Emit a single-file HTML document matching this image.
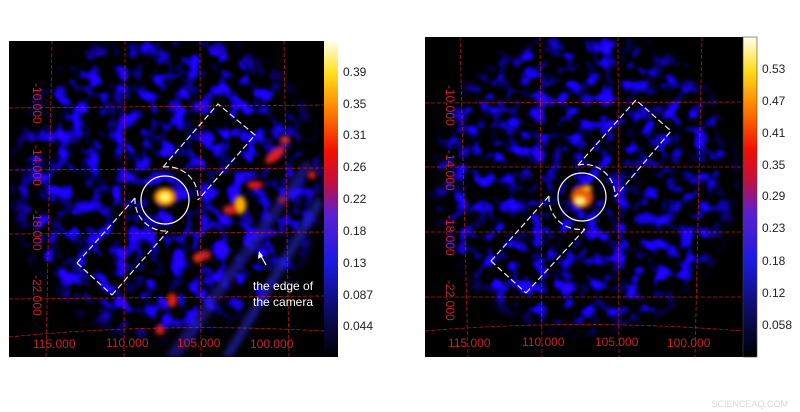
<!DOCTYPE html>
<html><head><meta charset="utf-8"><style>
html,body{margin:0;padding:0;background:#fff;width:800px;height:412px;overflow:hidden}
svg{display:block}
text{font-family:"Liberation Sans",sans-serif}
</style></head><body>
<svg width="800" height="412" viewBox="0 0 800 412" xmlns="http://www.w3.org/2000/svg" color-interpolation-filters="sRGB">
<defs>
<filter id="n1" x="0" y="0" width="100%" height="100%" color-interpolation-filters="sRGB">
<feTurbulence type="fractalNoise" baseFrequency="0.07" numOctaves="2" seed="3"/>
<feGaussianBlur stdDeviation="1.2"/>
<feColorMatrix type="matrix" values="0.6 0 0 0 -0.3  0 0 0 0 0  4.5 0 0 0 -2.05  0 0 0 0 1"/>
<feGaussianBlur stdDeviation="1"/>
</filter>
<filter id="n2" x="0" y="0" width="100%" height="100%" color-interpolation-filters="sRGB">
<feTurbulence type="fractalNoise" baseFrequency="0.075" numOctaves="2" seed="11"/>
<feGaussianBlur stdDeviation="1.2"/>
<feColorMatrix type="matrix" values="0.5 0 0 0 -0.25  0 0 0 0 0  4.3 0 0 0 -1.98  0 0 0 0 1"/>
<feGaussianBlur stdDeviation="1"/>
</filter>
<filter id="bl" x="-50%" y="-50%" width="200%" height="200%"><feGaussianBlur stdDeviation="2.5"/></filter>
<filter id="bl2" x="-50%" y="-50%" width="200%" height="200%"><feGaussianBlur stdDeviation="3"/></filter>
<clipPath id="c1"><rect x="9" y="41" width="315" height="316"/></clipPath>
<clipPath id="c2"><rect x="425" y="37" width="318" height="320"/></clipPath>
<radialGradient id="m1" cx="0.5" cy="0.45" r="0.56"><stop offset="0.78" stop-color="#fff"/><stop offset="0.92" stop-color="#000"/></radialGradient>
<radialGradient id="m2" cx="0.5" cy="0.45" r="0.55"><stop offset="0.78" stop-color="#fff"/><stop offset="0.9" stop-color="#000"/></radialGradient>
<mask id="mk1"><rect x="9" y="41" width="315" height="316" fill="url(#m1)"/></mask>
<mask id="mk2"><rect x="425" y="37" width="318" height="320" fill="url(#m2)"/></mask>
<linearGradient id="cb" x1="0" y1="1" x2="0" y2="0">
<stop offset="0" stop-color="#000"/><stop offset="0.12" stop-color="#0a0a50"/><stop offset="0.3" stop-color="#1a1ae0"/><stop offset="0.45" stop-color="#5a20d0"/><stop offset="0.55" stop-color="#c01040"/><stop offset="0.65" stop-color="#f01000"/><stop offset="0.78" stop-color="#ff8000"/><stop offset="0.9" stop-color="#ffe020"/><stop offset="1" stop-color="#fffff0"/>
</linearGradient>
</defs>

<!-- LEFT PANEL -->
<rect x="9" y="41" width="315" height="316" fill="#000"/>
<g clip-path="url(#c1)">
<rect x="9" y="41" width="315" height="316" filter="url(#n1)" mask="url(#mk1)"/>
<g filter="url(#bl2)">
<path d="M165 357 L305 160 L314 166 L180 357 Z" fill="#2a20c0" opacity="0.55"/>
<path d="M222 357 L318 195 L323 205 L232 357 Z" fill="#2a2ad8" opacity="0.6"/>
</g>
<g filter="url(#bl)">
<ellipse cx="275" cy="155" rx="12" ry="5" fill="#e02020" transform="rotate(-40 275 155)"/>
<ellipse cx="240" cy="205" rx="6" ry="9" fill="#ffb000"/>
<ellipse cx="255" cy="185" rx="8" ry="4" fill="#e01818"/>
<ellipse cx="230" cy="210" rx="7" ry="5" fill="#d02020"/>
<ellipse cx="205" cy="255" rx="6" ry="5" fill="#c02030"/>
<ellipse cx="198" cy="258" rx="5" ry="5" fill="#e03010"/>
<ellipse cx="172" cy="300" rx="5" ry="7" fill="#e02010"/>
<ellipse cx="160" cy="330" rx="5" ry="5" fill="#d02020"/>
<ellipse cx="285" cy="140" rx="5" ry="4" fill="#e03030"/>
<ellipse cx="312" cy="175" rx="4" ry="4" fill="#e02020"/>
<ellipse cx="282" cy="200" rx="4" ry="3" fill="#c02040"/>
<ellipse cx="165" cy="197" rx="11" ry="9" fill="#ff9000"/>
<ellipse cx="165" cy="197" rx="6" ry="5" fill="#ffff70"/>
</g>
</g>
<g stroke="#d02020" stroke-width="0.8" stroke-dasharray="4,2" fill="none" opacity="0.85">
<path d="M52 41 L46 357"/><path d="M125 41 L124 357"/><path d="M200 41 L201 357"/><path d="M284 41 L289 357"/>
<path d="M9 108 L324 105"/><path d="M9 170 L324 168"/><path d="M9 234 L324 232"/><path d="M9 299 L324 296"/>
<path d="M9 337 Q160 322 324 331"/>
</g>
<g fill="#c8202a" font-size="12">
<text x="33" y="83" transform="rotate(90 33 83)">-10.000</text>
<text x="33" y="145" transform="rotate(90 33 145)">-14.000</text>
<text x="33" y="210" transform="rotate(90 33 210)">-18.000</text>
<text x="33" y="275" transform="rotate(90 33 275)">-22.000</text>
<text x="33" y="348">115.000</text><text x="106" y="347">110.000</text><text x="177" y="347">105.000</text><text x="250" y="348">100.000</text>
</g>
<g stroke="#e8e8ff" stroke-width="1.2" fill="none" stroke-dasharray="6,3">
<path d="M77 263 L135 198 M112 295 L168 231 M77 263 L112 295"/>
<path d="M163 167 L218 104 L255 135 L198 200"/>
<path d="M135 198 A31 31 0 0 0 168 231"/><path d="M163 167 A31 31 0 0 1 198 200"/>
</g>
<circle cx="165" cy="200" r="24" stroke="#fff" stroke-width="1.2" fill="none"/>
<path d="M266 265 L260 254" stroke="#fff" stroke-width="1.2"/><path d="M259 251 L258 259 L263 256 Z" fill="#fff"/>
<text x="253" y="290" fill="#fff" font-size="12">the edge of</text>
<text x="253" y="306" fill="#fff" font-size="12">the camera</text>
<rect x="324" y="41" width="14" height="316" fill="url(#cb)"/>
<g font-size="12" fill="#222">
<text x="343" y="76">0.39</text><text x="343" y="108">0.35</text><text x="343" y="139">0.31</text><text x="343" y="171">0.26</text><text x="343" y="203">0.22</text><text x="343" y="235">0.18</text><text x="343" y="267">0.13</text><text x="343" y="299">0.087</text><text x="343" y="330">0.044</text>
</g>

<!-- RIGHT PANEL -->
<rect x="425" y="37" width="318" height="320" fill="#000"/>
<g clip-path="url(#c2)">
<rect x="425" y="37" width="318" height="320" filter="url(#n2)" mask="url(#mk2)"/>
<g filter="url(#bl)">
<ellipse cx="582" cy="197" rx="11" ry="11" fill="#ff6000" opacity="0.9"/>
<ellipse cx="580" cy="201" rx="6" ry="5" fill="#ffee70"/>
<ellipse cx="587" cy="188" rx="5" ry="3" fill="#ffb020"/>
</g>
</g>
<g stroke="#d02020" stroke-width="0.8" stroke-dasharray="4,2" fill="none" opacity="0.85">
<path d="M460 37 L468 357"/><path d="M540 37 L542 357"/><path d="M618 37 L619 357"/><path d="M702 37 L695 357"/>
<path d="M425 103 L743 102"/><path d="M425 167 L743 167"/><path d="M425 232 L743 232"/><path d="M425 297 L743 297"/>
<path d="M425 331 Q580 318 743 331"/>
</g>
<g fill="#c8202a" font-size="12">
<text x="446" y="85" transform="rotate(90 446 85)">-10.000</text>
<text x="446" y="150" transform="rotate(90 446 150)">-14.000</text>
<text x="446" y="215" transform="rotate(90 446 215)">-18.000</text>
<text x="446" y="280" transform="rotate(90 446 280)">-22.000</text>
<text x="448" y="347">115.000</text><text x="522" y="346">110.000</text><text x="595" y="346">105.000</text><text x="667" y="347">100.000</text>
</g>
<g stroke="#e8e8ff" stroke-width="1.2" fill="none" stroke-dasharray="6,3">
<path d="M491 261 L549 196 M526 293 L585 229 M491 261 L526 293"/>
<path d="M578 165 L636 100 L671 131 L615 197"/>
<path d="M549 196 A31 31 0 0 0 585 229"/><path d="M578 165 A31 31 0 0 1 615 197"/>
</g>
<circle cx="582" cy="197" r="24" stroke="#fff" stroke-width="1.2" fill="none"/>
<rect x="743" y="37" width="14" height="320" fill="url(#cb)" stroke="#444" stroke-width="0.6"/>
<g font-size="12" fill="#222">
<text x="762" y="73">0.53</text><text x="762" y="105">0.47</text><text x="762" y="137">0.41</text><text x="762" y="169">0.35</text><text x="762" y="200">0.29</text><text x="762" y="232">0.23</text><text x="762" y="265">0.18</text><text x="762" y="297">0.12</text><text x="762" y="329">0.058</text>
</g>
<text x="788" y="407" fill="#d8d8d8" font-size="9" text-anchor="end">SCIENCEAQ.COM</text>
</svg>
</body></html>
